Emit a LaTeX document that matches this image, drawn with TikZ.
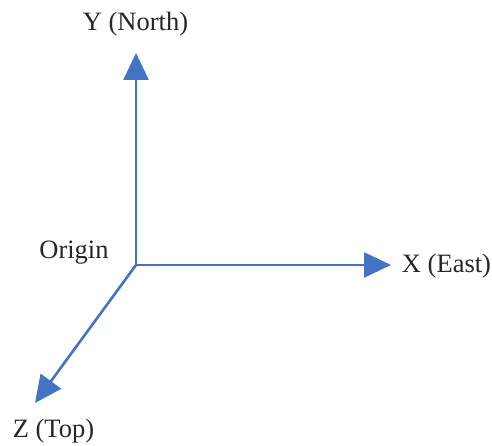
\documentclass[tikz,border=0pt]{standalone}
\usepackage{fontspec}
\setmainfont{Liberation Serif}
\usetikzlibrary{arrows.meta}
\definecolor{axisblue}{HTML}{4472C4}
\begin{document}
\begin{tikzpicture}[x=1pt,y=-1pt,
  axis/.style={draw=axisblue, line width=2.6pt, -{Triangle[width=25pt,length=27pt]}},
  lbl/.style={font=\fontsize{26.5}{30}\selectfont, text=black!85, inner sep=0pt}]
  \useasboundingbox (0,0) rectangle (492,446);
  % axes meeting at the origin
  \coordinate (O) at (136,265);
  \coordinate (ytip) at (136,53);
  \coordinate (xtip) at (391,265);
  \coordinate (ztip) at (35,403);
  \draw[axis] (O) -- (ytip);
  \draw[axis] (O) -- (xtip);
  \draw[axis] (O) -- (ztip);
  % axis names
  \node[lbl] (ylab) at (135.5,24) {Y (North)};
  \node[lbl] (xlab) at (446.5,266) {X (East)};
  \node[lbl] (zlab) at (53.5,431) {Z (Top)};
  \node[lbl] (olab) at (74,253) {Origin};
\end{tikzpicture}
\end{document}
